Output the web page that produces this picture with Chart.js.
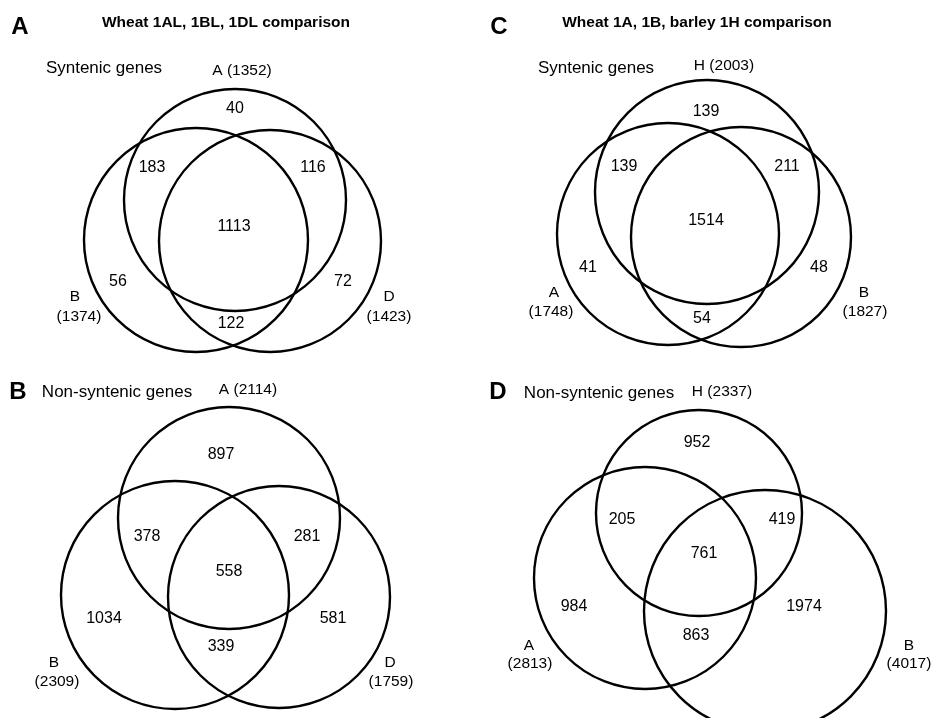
<!DOCTYPE html>
<html><head><meta charset="utf-8">
<script src="https://cdn.jsdelivr.net/npm/chart.js@4/dist/chart.umd.min.js"></script>
<style>html,body{margin:0;padding:0;background:#fff;}#wrap{position:relative;width:934px;height:718px;}</style>
</head><body><div id="wrap"><canvas id="c"></canvas></div>
<script>
// ---------- DATA ----------
const panelLetters = ['A', 'B', 'C', 'D'];
const panelTitles = ['Wheat 1AL, 1BL, 1DL comparison', '', 'Wheat 1A, 1B, barley 1H comparison', ''];
const panelSubtitles = ['Syntenic genes', 'Non-syntenic genes', 'Syntenic genes', 'Non-syntenic genes'];
// set order per panel: [top, left, right]
const setNamesA = ['A', 'B', 'D'];
const setNamesB = ['A', 'B', 'D'];
const setNamesC = ['H', 'A', 'B'];
const setNamesD = ['H', 'A', 'B'];
const totalsA = [1352, 1374, 1423];
const totalsB = [2114, 2309, 1759];
const totalsC = [2003, 1748, 1827];
const totalsD = [2337, 2813, 4017];
// region order: [top only, top∩left, top∩right, all three, left only, right only, left∩right]
const regionsA = [40, 183, 116, 1113, 56, 72, 122];
const regionsB = [897, 378, 281, 558, 1034, 581, 339];
const regionsC = [139, 139, 211, 1514, 41, 48, 54];
const regionsD = [952, 205, 419, 761, 984, 1974, 863];

// ---------- LAYOUT (page coordinates) ----------
const layout = [
  { letter: [20, 27], title: [226, 23], sub: [104, 68],
    circles: [[235, 200, 111], [196, 240, 112], [270, 241, 111]],
    regions: [[235, 109], [152, 168], [313, 168], [234, 227], [118, 282], [343, 282], [231, 324]],
    topLabel: [242, 71], leftLabel: [[75, 297], [79, 317]], rightLabel: [[389, 297], [389, 317]] },
  { letter: [18, 392], title: null, sub: [117, 392],
    circles: [[229, 518, 111], [175, 595, 114], [279, 597, 111]],
    regions: [[221, 455], [147, 537], [307, 537], [229, 572], [104, 619], [333, 619], [221, 647]],
    topLabel: [248, 390], leftLabel: [[54, 663], [57, 682]], rightLabel: [[390, 663], [391, 682]] },
  { letter: [499, 27], title: [697, 23], sub: [596, 68],
    circles: [[707, 192, 112], [668, 234, 111], [741, 237, 110]],
    regions: [[706, 112], [624, 167], [787, 167], [706, 221], [588, 268], [819, 268], [702, 319]],
    topLabel: [724, 66], leftLabel: [[554, 293], [551, 312]], rightLabel: [[864, 293], [865, 312]] },
  { letter: [498, 392], title: null, sub: [599, 393],
    circles: [[699, 513, 103], [645, 578, 111], [765, 611, 121]],
    regions: [[697, 443], [622, 520], [782, 520], [704, 554], [574, 607], [804, 607], [696, 636]],
    topLabel: [722, 392], leftLabel: [[529, 646], [530, 664]], rightLabel: [[909, 646], [909, 664]] }
];

const setNames = [setNamesA, setNamesB, setNamesC, setNamesD];
const totals = [totalsA, totalsB, totalsC, totalsD];
const regions = [regionsA, regionsB, regionsC, regionsD];

const FONT = '"Liberation Sans", Arial, Helvetica, sans-serif';

// one bubble dataset per panel: circles drawn through the x/y scales
const datasets = layout.map((L, i) => ({
  label: 'Panel ' + panelLetters[i],
  data: L.circles.map(c => ({ x: c[0], y: c[1], r: c[2] })),
  backgroundColor: 'rgba(0,0,0,0)',
  borderColor: '#000',
  borderWidth: 2.4,
  hoverBorderWidth: 2.4
}));

// text items
const texts = [];
layout.forEach((L, i) => {
  texts.push({ t: panelLetters[i], p: L.letter, f: 'bold 24px ' + FONT });
  if (L.title && panelTitles[i]) texts.push({ t: panelTitles[i], p: L.title, f: 'bold 15.5px ' + FONT });
  texts.push({ t: panelSubtitles[i], p: L.sub, f: '17px ' + FONT });
  texts.push({ t: setNames[i][0] + ' (' + totals[i][0] + ')', p: L.topLabel, f: '15.5px ' + FONT });
  texts.push({ t: setNames[i][1], p: L.leftLabel[0], f: '15.5px ' + FONT });
  texts.push({ t: '(' + totals[i][1] + ')', p: L.leftLabel[1], f: '15.5px ' + FONT });
  texts.push({ t: setNames[i][2], p: L.rightLabel[0], f: '15.5px ' + FONT });
  texts.push({ t: '(' + totals[i][2] + ')', p: L.rightLabel[1], f: '15.5px ' + FONT });
  regions[i].forEach((v, k) => texts.push({ t: String(v), p: L.regions[k], f: '16px ' + FONT }));
});

const textPlugin = {
  id: 'vennText',
  afterDatasetsDraw(chart) {
    const ctx = chart.ctx, xs = chart.scales.x, ys = chart.scales.y;
    ctx.save();
    ctx.fillStyle = '#000';
    ctx.textAlign = 'center';
    ctx.textBaseline = 'middle';
    texts.forEach(o => {
      ctx.font = o.f;
      ctx.fillText(o.t, xs.getPixelForValue(o.p[0]), ys.getPixelForValue(o.p[1]));
    });
    ctx.restore();
  }
};
const bgPlugin = {
  id: 'bg',
  beforeDraw(chart) {
    const ctx = chart.ctx;
    ctx.save(); ctx.fillStyle = '#fff'; ctx.fillRect(0, 0, chart.width, chart.height); ctx.restore();
  }
};

new Chart(document.getElementById('c'), {
  type: 'bubble',
  data: { datasets },
  options: {
    responsive: true,
    maintainAspectRatio: false,
    animation: false,
    events: [],
    layout: { padding: 0, autoPadding: false },
    plugins: { legend: { display: false }, tooltip: { enabled: false } },
    scales: {
      x: { type: 'linear', min: 0, max: 934, display: false },
      y: { type: 'linear', min: 0, max: 718, reverse: true, display: false }
    },
    clip: false
  },
  plugins: [bgPlugin, textPlugin]
});
</script></body></html>
